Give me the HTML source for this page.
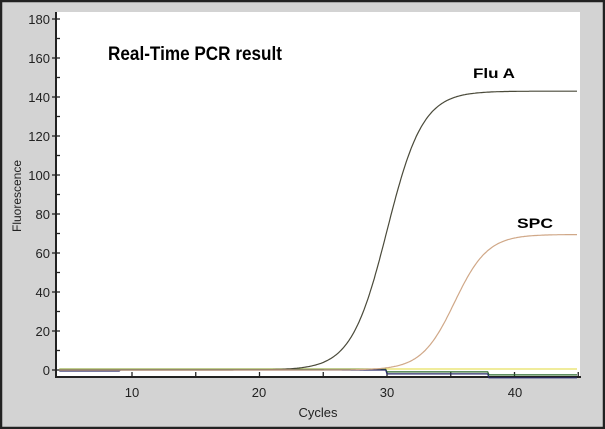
<!DOCTYPE html>
<html><head><meta charset="utf-8"><style>
html,body{margin:0;padding:0;background:#fff}
svg{display:block}
</style></head><body>
<svg id="s" width="605" height="429" viewBox="0 0 605 429" xmlns="http://www.w3.org/2000/svg" font-family="Liberation Sans, sans-serif">
<rect x="0" y="0" width="605" height="429" fill="#d3d3d3"/>
<rect x="1" y="1" width="603" height="427" fill="none" stroke="#222" stroke-width="2.5"/>
<rect x="57" y="12" width="523" height="365" fill="#fff"/>
<g id="ax" stroke="#222" stroke-width="2"><line x1="56" y1="12" x2="56" y2="378"/><line x1="56" y1="377" x2="581" y2="377"/></g>
<g id="ticks" stroke="#222" stroke-width="1.3"></g>
<g id="lab" font-size="13" fill="#222" text-anchor="end"></g>
<g font-size="13" fill="#222" text-anchor="middle">
<text x="132" y="397">10</text><text x="259" y="397">20</text><text x="387" y="397">30</text><text x="515" y="397">40</text>
<text x="318" y="417">Cycles</text>
<text transform="translate(21,196) rotate(-90)" font-size="12">Fluorescence</text>
</g>
<g id="series" fill="none" stroke-width="1.2"></g>
<text x="108" y="60" font-size="19" font-weight="bold" fill="#000" textLength="174" lengthAdjust="spacingAndGlyphs">Real-Time PCR result</text>
<text x="473" y="78" font-size="14" font-weight="bold" fill="#000" textLength="42" lengthAdjust="spacingAndGlyphs">Flu A</text>
<text x="517" y="228" font-size="14" font-weight="bold" fill="#000" textLength="36" lengthAdjust="spacingAndGlyphs">SPC</text>
</svg>
<script>
var ns="http://www.w3.org/2000/svg";
function X(c){return 132+(c-10)*12.75}
function Y(v){return 370-v*1.95}
var t=document.getElementById('ticks'),l=document.getElementById('lab');
for(var v=0;v<=180;v+=10){var y=Y(v);var e=document.createElementNS(ns,'line');
e.setAttribute('x1',v%20?56:52);e.setAttribute('x2',60);e.setAttribute('y1',y);e.setAttribute('y2',y);t.appendChild(e);
if(v%20==0){var tx=document.createElementNS(ns,'text');tx.setAttribute('x',50);tx.setAttribute('y',y+5);tx.textContent=v;l.appendChild(tx);}}
for(var c=10;c<=45;c+=5){var x=X(c);var e=document.createElementNS(ns,'line');e.setAttribute('x1',x);e.setAttribute('x2',x);e.setAttribute('y1',372);e.setAttribute('y2',377);t.appendChild(e);}
var s=document.getElementById('series');
function path(f,col,a,b){var d='';for(var c=a;c<=b;c+=0.1){d+=(d?'L':'M')+X(c).toFixed(1)+' '+Y(f(c)).toFixed(1);}
var p=document.createElementNS(ns,'path');p.setAttribute('d',d);p.setAttribute('stroke',col);s.appendChild(p);}
path(function(c){return 0.5},'#e6e060',4.3,45);
path(function(c){return c<30?0.3:(c<38?-1:-2.5)},'#2b6a2b',4.3,45);
path(function(c){return c<9?-0.5:(c<30?0:(c<38?-2:-4))},'#2a2a6a',4.3,45);
path(function(c){return 143/(1+Math.exp(-(c-30)/1.4))},'#4a4a3a',4.3,45);
path(function(c){return 69.5/(1+Math.exp(-(c-35.3)/1.3))},'#d0a888',4.3,45);
</script>
</body></html>
